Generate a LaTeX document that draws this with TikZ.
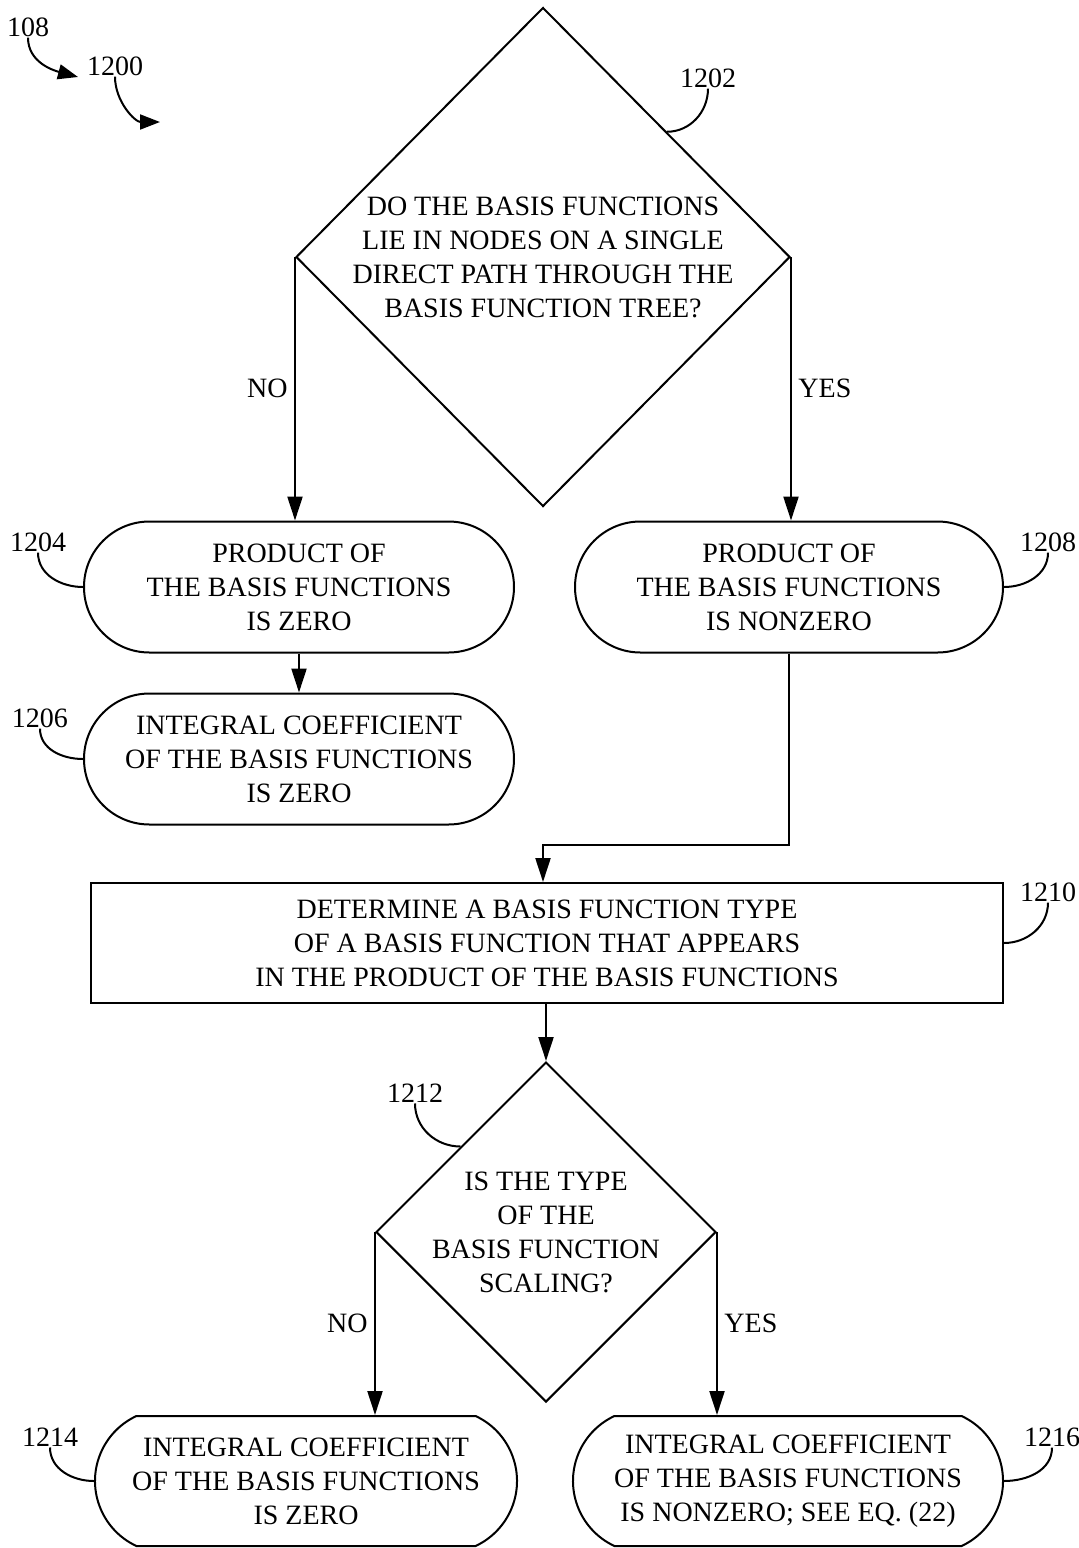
\documentclass[tikz,border=0pt]{standalone}
\usepackage{fontspec}
\setmainfont{Liberation Serif}
\usetikzlibrary{shapes.geometric,shapes.misc,arrows.meta}
\tikzstyle{every node}=[font=\fontsize{28pt}{34pt}\selectfont]
\tikzstyle{decision}=[diamond, draw, line width=2pt, align=center, inner sep=-14pt]
\tikzstyle{stadium}=[rounded rectangle, draw, line width=2pt, align=center, minimum height=131pt, inner sep=0pt]
\tikzstyle{block}=[rectangle, draw, line width=2pt, align=center, minimum width=912pt, minimum height=120pt]
\tikzstyle{ref}=[inner sep=1pt]
\tikzstyle{flow}=[-{Triangle[length=24pt,width=15pt]}, line width=2.2pt]
\tikzstyle{lead}=[line width=2pt]

\begin{document}
\begin{tikzpicture}[x=1pt,y=1pt]
\useasboundingbox (0,0) rectangle (1079,-1548);

\node (l108) at (28,-27) [ref] {108};
\node (l1200) at (115,-66) [ref] {1200};
\coordinate (a108) at (78,-77);
\coordinate (a1200) at (160,-122);
\draw[-{Triangle[length=20pt,width=15pt]}, line width=2pt] (l108.south) to [out=-90, in=165] (a108);
\draw[-{Triangle[length=20pt,width=15pt]}, line width=2pt] (l1200.south) to [out=-90, in=180] (a1200);

\node (d1) at (543,-257) [decision, minimum width=494pt, minimum height=499pt] {DO THE BASIS FUNCTIONS\\LIE IN NODES ON A SINGLE\\DIRECT PATH THROUGH THE\\BASIS FUNCTION TREE?};

\node (s1204) at (299,-587) [stadium, minimum width=430pt] {PRODUCT OF\\THE BASIS FUNCTIONS\\IS ZERO};
\node (s1206) at (299,-759) [stadium, minimum width=430pt] {INTEGRAL COEFFICIENT\\OF THE BASIS FUNCTIONS\\IS ZERO};
\node (s1208) at (789,-587) [stadium, minimum width=428pt] {PRODUCT OF\\THE BASIS FUNCTIONS\\IS NONZERO};

\node (r1210) at (547,-943) [block] {DETERMINE A BASIS FUNCTION TYPE\\OF A BASIS FUNCTION THAT APPEARS\\IN THE PRODUCT OF THE BASIS FUNCTIONS};

\node (d2) at (546,-1232) [decision, minimum width=340pt, minimum height=340pt] {IS THE TYPE\\OF THE\\BASIS FUNCTION\\SCALING?};

\node (s1214) at (306,-1481) [stadium, minimum width=422pt, minimum height=130pt, rounded rectangle arc length=130] {INTEGRAL COEFFICIENT\\OF THE BASIS FUNCTIONS\\IS ZERO};
\node (s1216) at (788,-1481) [stadium, minimum width=430pt, minimum height=130pt, rounded rectangle arc length=130] {INTEGRAL COEFFICIENT\\OF THE BASIS FUNCTIONS\\IS NONZERO; SEE EQ. (22)};

\coordinate (join) at (543,-845);

\draw[flow] (d1.west) -- (d1.west |- s1204.north) node [midway, left=3pt] {NO};
\draw[flow] (d1.east) -- (d1.east |- s1208.north) node [midway, right=3pt] {YES};
\draw[flow] (s1204.south) -- (s1206.north);
\draw[flow] (s1208.south) |- (join) -- (join |- r1210.north);
\draw[flow] (d2.north |- r1210.south) -- (d2.north);
\draw[flow] (d2.west) -- (d2.west |- s1214.north) node [midway, left=3pt] {NO};
\draw[flow] (d2.east) -- (d2.east |- s1216.north) node [midway, right=3pt] {YES};

% reference numerals
\node (l1202) at (708,-78) [ref] {1202};
\node (l1204) at (38,-542) [ref] {1204};
\node (l1206) at (40,-718) [ref] {1206};
\node (l1208) at (1048,-542) [ref] {1208};
\node (l1210) at (1048,-892) [ref] {1210};
\node (l1212) at (415,-1093) [ref] {1212};
\node (l1214) at (50,-1437) [ref] {1214};
\node (l1216) at (1052,-1437) [ref] {1216};

\draw[lead] (l1202.south) to [out=-90, in=0] (d1.north east);
\draw[lead] (l1204.south) to [out=-90, in=180] (s1204.west);
\draw[lead] (l1206.south) to [out=-90, in=180] (s1206.west);
\draw[lead] (l1208.south) to [out=-90, in=0] (s1208.east);
\draw[lead] (l1210.south) to [out=-90, in=0] (r1210.east);
\draw[lead] (l1212.south) to [out=-90, in=180] (d2.north west);
\draw[lead] (l1214.south) to [out=-90, in=180] (s1214.west);
\draw[lead] (l1216.south) to [out=-90, in=0] (s1216.east);

\end{tikzpicture}
\end{document}
